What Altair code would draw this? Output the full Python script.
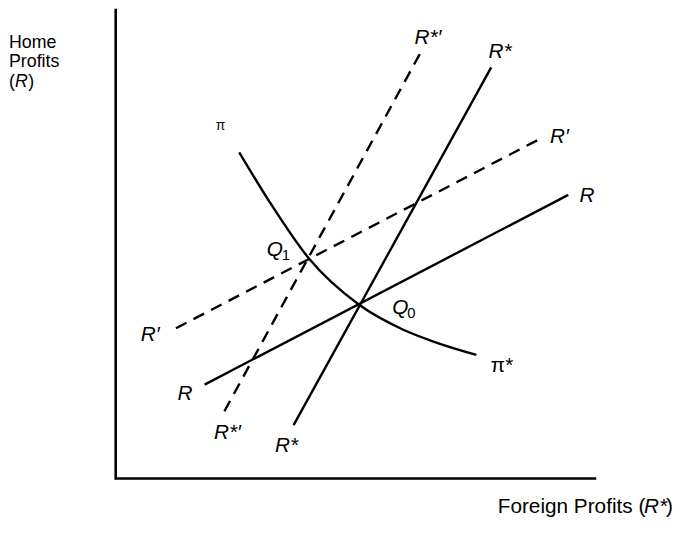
import altair as alt
import pandas as pd

# ---- data (units: schematic diagram coordinates) ----
# axes frame: vertical axis top -> origin -> end of horizontal axis
frame_x = [0, 0, 485]
frame_y = [474, 0, 0]

# straight reaction lines
line_names = ["R", "R′", "R*", "R*′"]
line_x0 = [90, 61, 180, 110]
line_y0 = [95, 152, 54, 68]
line_x1 = [458, 430, 380, 308]
line_y1 = [287, 344, 416, 430]
line_dashed = [False, True, False, True]

# iso-profit curve pi
pi_x = [125, 155, 196, 246, 290, 323, 365]
pi_y = [330, 281, 222, 176, 151, 138, 125]

# italic labels (line names, Q points)
ital_text = ["R*′", "R*", "R′", "R", "R′", "R", "R*′", "R*", "Q", "Q"]
ital_x = [316, 389, 449, 477, 35, 70, 113, 173, 161, 288]
ital_y = [446, 431, 345, 286, 145, 85, 46, 33, 231, 172]

# subscripts of Q
sub_text = ["1", "0"]
sub_x = [168, 295]
sub_y = [226, 167]

# pi labels
pil_text = ["π", "π*"]
pil_x = [106, 391]
pil_y = [357, 114]
pil_size = [14, 21]

# axis titles
ytitle_text = ["Home", "Profits", "("]
ytitle_x = [-108, -108, -108]
ytitle_y = [436, 416, 396]
ytitle_r_x = [-102]
ytitle_r_y = [396]
ytitle_close_x = [-88.5]
ytitle_close_y = [396]

xtitle_text = ["Foreign Profits (", ")"]
xtitle_x = [536, 564]
xtitle_y = [-35, -35]
xtitle_r_x = [558]
xtitle_r_y = [-35]

FONT = "Liberation Sans"
XS = alt.Scale(domain=[-109, 565], nice=False, zero=False)
YS = alt.Scale(domain=[-44, 473], nice=False, zero=False)


def xy(df_chart, **extra):
    return df_chart.encode(
        x=alt.X("x:Q", scale=XS, axis=None),
        y=alt.Y("y:Q", scale=YS, axis=None),
        **extra,
    )


frame_df = pd.DataFrame({"x": frame_x, "y": frame_y, "o": [0, 1, 2]})
frame = xy(alt.Chart(frame_df).mark_line(color="black", strokeWidth=2.6, strokeCap="square"),
           order="o:Q")

rows = []
for n, a, b, c, d, dsh in zip(line_names, line_x0, line_y0, line_x1, line_y1, line_dashed):
    rows.append({"name": n, "x": a, "y": b, "dashed": dsh})
    rows.append({"name": n, "x": c, "y": d, "dashed": dsh})
lines_df = pd.DataFrame(rows)
solid = xy(alt.Chart(lines_df[~lines_df.dashed]).mark_line(color="black", strokeWidth=2.4),
           detail="name:N")
dashed = xy(alt.Chart(lines_df[lines_df.dashed]).mark_line(color="black", strokeWidth=2.4,
                                                           strokeDash=[12, 8]),
            detail="name:N")

pi_df = pd.DataFrame({"x": pi_x, "y": pi_y})
pi_curve = xy(alt.Chart(pi_df).mark_line(color="black", strokeWidth=2.4, interpolate="monotone"))

ital_df = pd.DataFrame({"x": ital_x, "y": ital_y, "t": ital_text})
ital = xy(alt.Chart(ital_df).mark_text(font=FONT, fontStyle="italic", fontSize=21,
                                       align="center", baseline="middle", color="black"),
          text="t:N")

sub_df = pd.DataFrame({"x": sub_x, "y": sub_y, "t": sub_text})
subs = xy(alt.Chart(sub_df).mark_text(font=FONT, fontSize=15, align="left",
                                      baseline="middle", color="black"),
          text="t:N")

pil_df = pd.DataFrame({"x": pil_x, "y": pil_y, "t": pil_text, "s": pil_size})
pils = xy(alt.Chart(pil_df).mark_text(font=FONT, align="center", baseline="middle", color="black"),
          text="t:N", size=alt.Size("s:Q", scale=None, legend=None))

yt_df = pd.DataFrame({"x": ytitle_x, "y": ytitle_y, "t": ytitle_text})
yt = xy(alt.Chart(yt_df).mark_text(font=FONT, fontSize=18, align="left",
                                   baseline="alphabetic", color="black"), text="t:N")
ytr = xy(alt.Chart(pd.DataFrame({"x": ytitle_r_x, "y": ytitle_r_y, "t": ["R"]}))
         .mark_text(font=FONT, fontSize=18, fontStyle="italic", align="left",
                    baseline="alphabetic", color="black"), text="t:N")
ytc = xy(alt.Chart(pd.DataFrame({"x": ytitle_close_x, "y": ytitle_close_y, "t": [")"]}))
         .mark_text(font=FONT, fontSize=18, align="left",
                    baseline="alphabetic", color="black"), text="t:N")

xt_df = pd.DataFrame({"x": xtitle_x, "y": xtitle_y, "t": xtitle_text})
xt = xy(alt.Chart(xt_df).mark_text(font=FONT, fontSize=21, align="right",
                                   baseline="alphabetic", color="black"), text="t:N")
xtr = xy(alt.Chart(pd.DataFrame({"x": xtitle_r_x, "y": xtitle_r_y, "t": ["R*"]}))
         .mark_text(font=FONT, fontSize=21, fontStyle="italic", align="right",
                    baseline="alphabetic", color="black"), text="t:N")

chart = alt.layer(frame, solid, dashed, pi_curve, ital, subs, pils, yt, ytr, ytc, xt, xtr).properties(
    width=674, height=517, padding=0, background="white",
    autosize=alt.AutoSizeParams(type="none"),
).configure_view(stroke=None)

chart.save("out.html", embed_options={"renderer": "svg", "actions": False})
